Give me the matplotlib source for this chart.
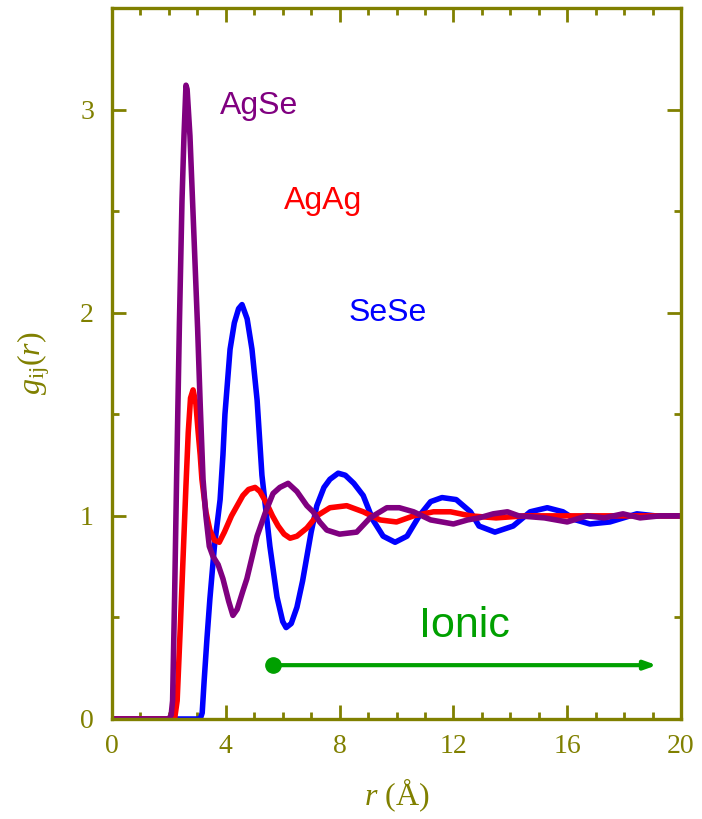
import matplotlib
matplotlib.use("Agg")
import matplotlib.pyplot as plt

plt.rcParams['mathtext.fontset'] = 'custom'
plt.rcParams['mathtext.rm'] = 'Liberation Serif'
plt.rcParams['mathtext.it'] = 'Liberation Serif:italic'

OLIVE = '#808000'

# g(r) curves
r_agse = [0, 2.0, 2.08, 2.13, 2.2, 2.27, 2.37, 2.46, 2.53, 2.6, 2.64, 2.74, 2.88,
          3.01, 3.1, 3.2, 3.3, 3.42, 3.55, 3.73, 3.9, 4.1, 4.25, 4.4, 4.6, 4.74,
          5.1, 5.4, 5.66, 5.9, 6.19, 6.5, 6.85, 7.07, 7.3, 7.55, 8.0, 8.6, 9.07,
          9.66, 10.1, 10.6, 11.2, 12.0, 12.5, 12.9, 13.4, 13.9, 14.3, 15.2, 16.0,
          16.7, 17.3, 17.96, 18.56, 19.26, 20]
g_agse = [0, 0, 0.02, 0.09, 0.6, 1.18, 1.95, 2.55, 2.87, 3.12, 3.1, 2.87, 2.38,
          1.92, 1.55, 1.18, 1.0, 0.85, 0.8, 0.76, 0.69, 0.58, 0.51, 0.54, 0.63, 0.69,
          0.9, 1.02, 1.11, 1.14, 1.16, 1.12, 1.05, 1.02, 0.97, 0.93, 0.91, 0.92, 0.99,
          1.04, 1.04, 1.02, 0.98, 0.96, 0.98, 0.99, 1.01, 1.02, 1.0, 0.99, 0.97,
          1.0, 0.99, 1.01, 0.99, 1.0, 1.0]

r_agag = [0, 2.2, 2.29, 2.4, 2.5, 2.6, 2.68, 2.76, 2.85, 2.95, 3.03, 3.1, 3.16,
          3.3, 3.44, 3.6, 3.77, 3.95, 4.2, 4.4, 4.6, 4.8, 5.03, 5.2, 5.44, 5.64,
          5.84, 6.05, 6.26, 6.5, 6.85, 7.2, 7.66, 8.25, 8.83, 9.42, 10.0, 10.6,
          11.3, 11.9, 12.6, 13.5, 14.5, 16, 18, 20]
g_agag = [0, 0, 0.09, 0.45, 0.8, 1.15, 1.41, 1.58, 1.62, 1.55, 1.41, 1.3, 1.18,
          1.02, 0.93, 0.88, 0.87, 0.92, 1.0, 1.05, 1.1, 1.13, 1.14, 1.12, 1.06, 1.0,
          0.95, 0.91, 0.89, 0.9, 0.94, 1.0, 1.04, 1.05, 1.02, 0.98, 0.97, 1.0,
          1.02, 1.02, 1.0, 0.99, 1.0, 1.0, 1.0, 1.0]

r_sese = [0, 3.1, 3.17, 3.24, 3.34, 3.44, 3.6, 3.8, 3.9, 3.97, 4.15, 4.3, 4.45,
          4.57, 4.75, 4.92, 5.1, 5.27, 5.55, 5.8, 6.0, 6.12, 6.3, 6.5, 6.7, 6.85,
          7.0, 7.2, 7.45, 7.66, 7.95, 8.2, 8.5, 8.83, 9.17, 9.53, 9.95, 10.37, 10.8,
          11.2, 11.6, 12.1, 12.6, 12.9, 13.46, 14.1, 14.7, 15.3, 15.85, 16.3, 16.8,
          17.5, 18.45, 19.1, 20]
g_sese = [0, 0, 0.03, 0.19, 0.4, 0.59, 0.85, 1.08, 1.3, 1.5, 1.82, 1.95, 2.02,
          2.04, 1.97, 1.82, 1.57, 1.2, 0.85, 0.6, 0.48, 0.45, 0.47, 0.55, 0.68, 0.8,
          0.92, 1.05, 1.14, 1.18, 1.21, 1.2, 1.16, 1.1, 0.98, 0.9, 0.87, 0.9, 1.0,
          1.07, 1.09, 1.08, 1.02, 0.95, 0.92, 0.95, 1.02, 1.04, 1.02, 0.98, 0.96,
          0.97, 1.01, 1.0, 1.0]

labels = ['AgSe', 'AgAg', 'SeSe']
label_pos = [(5.17, 3.02), (7.42, 2.55), (9.7, 2.0)]
colors = ['#800080', '#ff0000', '#0000ff']

ionic_start, ionic_end, ionic_g = 5.65, 19.15, 0.265

fig = plt.figure(figsize=(7.02, 8.19), dpi=100)
ax = fig.add_axes([112/702, 100/819, 569/702, 711/819])

ax.plot(r_sese, g_sese, color=colors[2], lw=4, solid_joinstyle='round')
ax.plot(r_agag, g_agag, color=colors[1], lw=4, solid_joinstyle='round')
ax.plot(r_agse, g_agse, color=colors[0], lw=4, solid_joinstyle='round')

for lab, (x, y), c in zip(labels, label_pos, colors):
    ax.text(x, y, lab, color=c, fontsize=23, family='Liberation Sans',
            ha='center', va='center')

# ionic arrow
ax.annotate('', xy=(ionic_end, ionic_g), xytext=(ionic_start, ionic_g),
            arrowprops=dict(arrowstyle='-|>,head_length=0.7,head_width=0.25',
                            color='#00a000', lw=3, shrinkA=0, shrinkB=0))
ax.plot([ionic_start], [ionic_g], 'o', color='#00a000', ms=11)
ax.text(12.4, 0.46, 'Ionic', color='#00a000', fontsize=31,
        family='Liberation Sans', ha='center', va='center')

ax.set_xlim(0, 20)
ax.set_ylim(0, 3.5)
ax.set_xticks([0, 4, 8, 12, 16, 20])
ax.set_xticks(range(0, 21), minor=True)
ax.set_yticks([0, 1, 2, 3])
ax.set_yticks([0.5, 1.5, 2.5, 3.5], minor=True)

for s in ax.spines.values():
    s.set_color(OLIVE)
    s.set_linewidth(2.4)

ax.tick_params(which='both', direction='in', top=True, right=True,
               color=OLIVE, labelcolor=OLIVE, width=2)
ax.tick_params(which='major', length=10, labelsize=20, pad=11)
ax.tick_params(which='minor', length=5)
ax.tick_params(axis='y', which='major', pad=13)
for t in ax.get_xticklabels() + ax.get_yticklabels():
    t.set_family('Liberation Serif')

ax.set_xlabel(r'$r$ (Å)', color=OLIVE, fontsize=23, family='Liberation Serif',
              labelpad=12)
ax.set_ylabel(r'$g_{\rm ij}(r)$', color=OLIVE, fontsize=23, labelpad=20)

fig.savefig('out.png', dpi=100)
